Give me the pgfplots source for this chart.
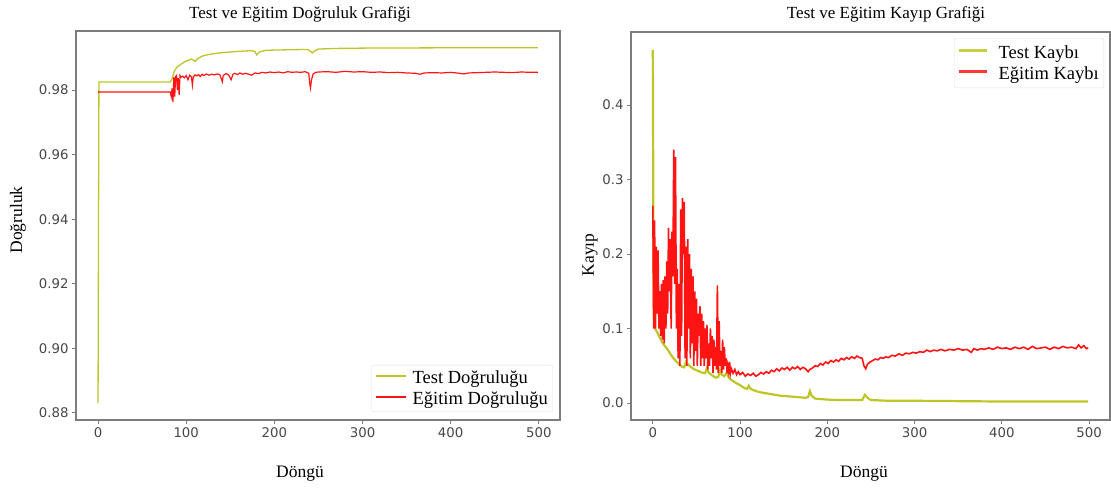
\documentclass[border=0pt]{standalone}
\usepackage{fontspec}
\setmainfont{Liberation Serif}
\newfontfamily\tickfont{DejaVu Sans}
\usepackage{pgfplots}
\pgfplotsset{compat=1.18}
\definecolor{ycol}{HTML}{BFC526}
\definecolor{rcol}{HTML}{FF1414}
\definecolor{axgray}{HTML}{7C7C7C}

\begin{document}
\begin{tikzpicture}
\pgfplotsset{
  myax/.style={
    scale only axis, anchor=south west,
    axis line style={axgray, line width=1.6pt},
    tick style={axgray, line width=1pt},
    tick align=outside, major tick length=4pt,
    xtick pos=left, ytick pos=left,
    xtick={0,100,200,300,400,500},
    tick label style={font=\tickfont\fontsize{13.3}{13.3}\selectfont, text=black!72},
    /pgf/number format/assume math mode=true,
    xmin=-25, xmax=524,
    legend cell align=left,
    legend style={font=\fontsize{18.5}{19}\selectfont, draw=black!12, rounded corners=2pt, fill=white, inner xsep=3pt, inner ysep=4pt, row sep=2pt},
  },
  leftleg/.style={legend image code/.code={\draw[##1, line width=1.8pt] (0pt,2pt) -- (30pt,2pt); \path[draw=none, fill=none] (0pt,1pt) rectangle (35pt,3pt);}},
  rightleg/.style={legend image code/.code={\draw[##1, line width=2.8pt, opacity=0.85] (0pt,2pt) -- (28pt,2pt); \path[draw=none, fill=none] (0pt,1pt) rectangle (38pt,3pt);}},
}

\begin{axis}[myax, leftleg, at={(76pt,-420pt)}, width=484pt, height=389pt,
  ymin=0.8778, ymax=0.9983,
  ytick={0.88,0.90,0.92,0.94,0.96,0.98},
  yticklabel style={/pgf/number format/.cd, fixed, fixed zerofill, precision=2},
  legend style={at={(0.9855,0.0206)}, anchor=south east}]
\addplot[ycol, line width=1.3pt] coordinates {
(0,0.883) (1,0.9825) (82,0.9825) (84,0.9835) (86,0.9855) (88,0.9865) (90,0.9872) (94,0.9880) (98,0.9887)
(102,0.9892) (106,0.9896) (108,0.9893) (110,0.9889) (113,0.9897) (118,0.9905) (125,0.9910) (135,0.9914)
(145,0.9917) (155,0.9919) (165,0.9921) (175,0.9922) (178,0.9919) (180,0.9909) (183,0.9918) (190,0.9923)
(200,0.9924) (220,0.9925) (238,0.9926) (241,0.9920) (243,0.9915) (246,0.9922) (250,0.9927) (270,0.9929)
(300,0.9930) (400,0.9931) (499,0.9931)};
\addlegendentry{Test Doğruluğu}
\addplot[rcol, line width=1.2pt] coordinates {
(0,0.9794) (82,0.9794) (83,0.9780) (84,0.9805) (85,0.9763) (86,0.9840) (87,0.9780) (88,0.9842) (89,0.9845)
(90,0.9800) (91,0.9838) (92,0.9785) (93,0.9845) (94,0.9840) (96,0.9843) (98,0.9838) (100,0.9845) (102,0.9832)
(104,0.9846) (106,0.9841) (107,0.9815) (108,0.9840) (110,0.9847) (112,0.9844) (114,0.9848) (116,0.9842)
(118,0.9849) (120,0.9845) (123,0.9850) (126,0.9846) (129,0.9849) (132,0.9847) (135,0.9850) (138,0.9848)
(140,0.9834) (141,0.9826) (142,0.9845) (145,0.9851) (148,0.9847) (151,0.9832) (153,0.9849) (155,0.9852)
(158,0.9848) (161,0.9853) (164,0.9849) (167,0.9852) (170,0.9850) (174,0.9846) (178,0.9853) (182,0.9851)
(186,0.9855) (190,0.9853) (195,0.9856) (200,0.9854) (205,0.9856) (210,0.9853) (215,0.9857) (220,0.9855)
(225,0.9856) (230,0.9855) (235,0.9857) (239,0.9852) (240,0.9822) (241,0.9806) (242,0.9830) (244,0.9850)
(247,0.9855) (250,0.9856) (260,0.9857) (270,0.9855) (280,0.9858) (290,0.9856) (300,0.9857) (310,0.9855)
(320,0.9856) (330,0.9854) (340,0.9855) (350,0.9853) (360,0.9852) (365,0.9849) (370,0.9853) (380,0.9854)
(390,0.9853) (400,0.9855) (410,0.9852) (415,0.9850) (420,0.9853) (430,0.9854) (440,0.9855) (450,0.9856)
(460,0.9855) (470,0.9854) (480,0.9856) (490,0.9855) (499,0.9855)};
\addlegendentry{Eğitim Doğruluğu}
\end{axis}

\begin{axis}[myax, rightleg, at={(631pt,-420pt)}, width=479pt, height=388pt,
  ymin=-0.0228, ymax=0.498,
  ytick={0,0.1,0.2,0.3,0.4},
  yticklabel style={/pgf/number format/.cd, fixed, fixed zerofill, precision=1},
  legend style={at={(0.9875,0.9845)}, anchor=north east, inner ysep=5pt, row sep=3pt}]
\addplot[ycol, line width=2.2pt] coordinates {
(0,0.474) (1,0.12) (2,0.103) (3,0.099) (5,0.095) (8,0.088) (11,0.081) (14,0.076) (17,0.072) (20,0.066)
(23,0.061) (26,0.057) (30,0.052) (33,0.049) (36,0.048) (38,0.055) (40,0.052) (44,0.048) (48,0.045)
(52,0.043) (56,0.041) (60,0.040) (62,0.047) (64,0.041) (68,0.037) (72,0.034) (75,0.035) (77,0.044)
(79,0.038) (82,0.036) (85,0.041) (87,0.034) (90,0.031) (95,0.027) (100,0.024) (105,0.020) (108,0.019)
(110,0.023) (112,0.019) (118,0.016) (125,0.014) (135,0.012) (145,0.010) (155,0.009) (165,0.008)
(175,0.007) (178,0.008) (180,0.016) (182,0.010) (186,0.006) (195,0.005) (210,0.004) (230,0.004)
(240,0.004) (243,0.011) (246,0.007) (250,0.004) (270,0.003) (300,0.003) (400,0.002) (499,0.002)};
\addlegendentry{Test Kaybı}
\addplot[rcol, line width=1.6pt] coordinates {
(0,0.265) (1,0.10) (2,0.245) (3,0.10) (4,0.21) (5,0.12) (6,0.205) (7,0.10) (8,0.15) (9,0.09) (10,0.16)
(11,0.085) (12,0.165) (13,0.08) (14,0.17) (15,0.10) (16,0.19) (17,0.12) (18,0.235) (19,0.15) (20,0.22)
(21,0.10) (22,0.23) (23,0.17) (24,0.34) (25,0.16) (26,0.33) (27,0.10) (28,0.18) (29,0.06) (30,0.16)
(31,0.05) (32,0.26) (33,0.09) (34,0.275) (35,0.20) (36,0.27) (37,0.06) (38,0.21) (39,0.05) (40,0.22)
(41,0.10) (42,0.20) (43,0.06) (44,0.18) (45,0.08) (46,0.17) (47,0.05) (48,0.15) (49,0.07) (50,0.14)
(51,0.05) (52,0.12) (53,0.09) (54,0.13) (55,0.05) (56,0.12) (57,0.06) (58,0.11) (59,0.05) (60,0.10)
(61,0.06) (62,0.105) (63,0.045) (64,0.08) (65,0.05) (66,0.10) (67,0.06) (68,0.09) (69,0.04) (70,0.085)
(71,0.05) (72,0.075) (73,0.045) (74,0.158) (75,0.04) (76,0.11) (77,0.05) (78,0.07) (79,0.04) (80,0.085)
(81,0.045) (82,0.075) (83,0.05) (84,0.06) (85,0.04) (86,0.05) (87,0.042) (88,0.055) (89,0.04) (90,0.046)
(92,0.040) (94,0.045) (96,0.038) (98,0.042) (100,0.038) (103,0.041) (106,0.036) (109,0.039) (112,0.037)
(115,0.040) (118,0.036) (121,0.038) (124,0.041) (127,0.039) (130,0.042) (133,0.040) (136,0.044)
(139,0.042) (142,0.046) (145,0.043) (148,0.047) (151,0.045) (154,0.048) (157,0.044) (160,0.048)
(163,0.046) (166,0.049) (169,0.045) (172,0.048) (175,0.046) (178,0.042) (180,0.045) (183,0.047)
(186,0.050) (189,0.049) (192,0.053) (195,0.051) (198,0.055) (201,0.053) (204,0.057) (207,0.055)
(210,0.058) (213,0.056) (216,0.060) (219,0.058) (222,0.061) (225,0.059) (228,0.062) (231,0.060)
(234,0.063) (237,0.061) (240,0.060) (242,0.050) (244,0.046) (246,0.052) (249,0.055) (252,0.057)
(255,0.059) (258,0.058) (261,0.061) (264,0.060) (267,0.062) (270,0.061) (274,0.064) (278,0.063)
(282,0.066) (286,0.064) (290,0.067) (294,0.066) (298,0.068) (302,0.067) (306,0.069) (310,0.068)
(314,0.071) (318,0.069) (322,0.071) (326,0.070) (330,0.072) (335,0.070) (340,0.072) (345,0.071)
(350,0.073) (355,0.071) (360,0.072) (365,0.068) (368,0.073) (372,0.071) (376,0.073) (380,0.072)
(385,0.074) (390,0.072) (395,0.075) (400,0.073) (405,0.074) (410,0.072) (415,0.075) (420,0.073)
(425,0.075) (430,0.072) (435,0.076) (440,0.073) (445,0.074) (450,0.075) (455,0.072) (460,0.075)
(465,0.073) (470,0.076) (475,0.074) (480,0.075) (485,0.073) (488,0.078) (491,0.074) (494,0.077)
(497,0.073) (499,0.074)};
\addlegendentry{Eğitim Kaybı}
\end{axis}

\node[anchor=base, font=\fontsize{17}{17}\selectfont] at (300pt,-19pt) {Test ve Eğitim Doğruluk Grafiği};
\node[anchor=base, font=\fontsize{17}{17}\selectfont] at (886pt,-19pt) {Test ve Eğitim Kayıp Grafiği};
\node[anchor=base, font=\fontsize{17.5}{17.5}\selectfont] at (300pt,-477pt) {Döngü};
\node[anchor=base, font=\fontsize{17.5}{17.5}\selectfont] at (864pt,-477pt) {Döngü};
\node[rotate=90, font=\fontsize{17.5}{17.5}\selectfont] at (18pt,-220pt) {Doğruluk};
\node[rotate=90, font=\fontsize{17.5}{17.5}\selectfont] at (590pt,-255pt) {Kayıp};

\pgfresetboundingbox
\path[use as bounding box] (0pt,0pt) rectangle (1111pt,-489pt);
\end{tikzpicture}
\end{document}
